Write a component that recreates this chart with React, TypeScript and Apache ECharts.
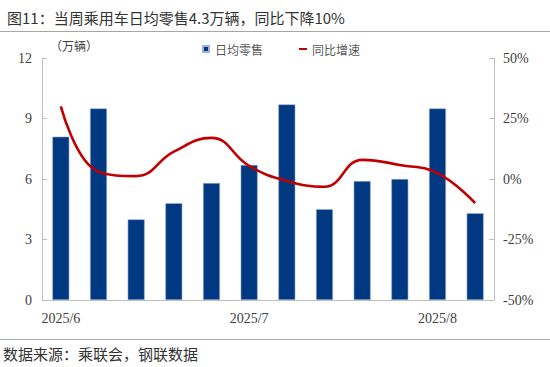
import React, { useEffect, useRef } from "react";
import * as echarts from "echarts";

const weeks = ["W1", "W2", "W3", "W4", "W5", "W6", "W7", "W8", "W9", "W10", "W11", "W12"];
const weekLabels = ["2025/6", "", "", "", "", "2025/7", "", "", "", "", "2025/8", ""];
const dailyRetail = [8.1, 9.5, 4.0, 4.8, 5.8, 6.7, 9.7, 4.5, 5.9, 6.0, 9.5, 4.3];
const yoyGrowth = [30, 3, 1.2, 11.3, 17, 5.4, -0.8, -3.2, 7.9, 5.8, 2.4, -10];

const titleText = "图11：当周乘用车日均零售4.3万辆，同比下降10%";
const sourceText = "数据来源：乘联会，钢联数据";
const unitText = "（万辆）";
const barName = "日均零售";
const lineName = "同比增速";

const CJK = '"Noto Sans CJK SC", "Noto Sans", sans-serif';
const SERIF = '"Liberation Serif", "Times New Roman", serif';

export default function App() {
  const ref = useRef<HTMLDivElement>(null);
  useEffect(() => {
    if (!ref.current) return;
    const chart = echarts.init(ref.current, null, { renderer: "svg" });
    chart.setOption({
      animation: false,
      backgroundColor: "#ffffff",
      title: {
        text: titleText,
        left: 2,
        top: 5,
        textStyle: { fontFamily: CJK, fontSize: 15, fontWeight: "normal", color: "#333333" },
      },
      legend: {
        left: 197,
        top: 38,
        itemGap: 36,
        itemWidth: 8,
        itemHeight: 6,
        textStyle: { fontFamily: CJK, fontSize: 12, color: "#595959" },
        data: [
          { name: barName, icon: "path://M0,0H6V6H0Z" },
          { name: lineName, icon: "path://M0,0H8V2H0Z" },
        ],
      },
      grid: { left: 42, right: 56, top: 58, bottom: 67, containLabel: false },
      xAxis: {
        type: "category",
        data: weeks,
        axisLine: { show: true, lineStyle: { color: "#BFBFBF", width: 1 } },
        axisTick: { show: false },
        axisLabel: {
          interval: 0,
          formatter: (_v: string, i: number) => weekLabels[i],
          fontFamily: SERIF,
          fontSize: 14,
          color: "#404040",
          margin: 11,
        },
      },
      yAxis: [
        {
          type: "value",
          min: 0,
          max: 12,
          interval: 3,
          position: "left",
          axisLine: { show: true, lineStyle: { color: "#BFBFBF" } },
          axisTick: { show: true, inside: true, length: 5, lineStyle: { color: "#BFBFBF" } },
          splitLine: { show: false },
          axisLabel: { fontFamily: SERIF, fontSize: 14, color: "#404040", margin: 10 },
        },
        {
          type: "value",
          min: -50,
          max: 50,
          interval: 25,
          position: "right",
          axisLine: { show: true, lineStyle: { color: "#BFBFBF" } },
          axisTick: { show: true, inside: true, length: 5, lineStyle: { color: "#BFBFBF" } },
          splitLine: { show: false },
          axisLabel: { fontFamily: SERIF, fontSize: 14, color: "#404040", margin: 9, formatter: "{value}%" },
        },
      ],
      series: [
        {
          name: barName,
          type: "bar",
          data: dailyRetail,
          yAxisIndex: 0,
          barWidth: 17,
          itemStyle: { color: "#003882", borderColor: "#9FB3D6", borderWidth: 0.6 },
        },
        {
          name: lineName,
          type: "line",
          data: yoyGrowth,
          yAxisIndex: 1,
          smooth: 0.45,
          showSymbol: false,
          symbol: "none",
          lineStyle: { color: "#C00000", width: 2.6 },
          itemStyle: { color: "#C00000" },
        },
      ],
      graphic: [
        { type: "line", shape: { x1: 0, y1: 31.5, x2: 550, y2: 31.5 }, style: { stroke: "#A6A6A6", lineWidth: 1 } },
        { type: "line", shape: { x1: 0, y1: 339.5, x2: 550, y2: 339.5 }, style: { stroke: "#A6A6A6", lineWidth: 1 } },
        {
          type: "text",
          x: 50,
          y: 45,
          style: { text: unitText, font: `12px ${CJK}`, fill: "#404040", textVerticalAlign: "middle" },
        },
        {
          type: "text",
          x: 3,
          y: 353,
          style: { text: sourceText, font: `15px ${CJK}`, fill: "#333333", textVerticalAlign: "middle" },
        },
      ],
    });
    return () => chart.dispose();
  }, []);
  return <div ref={ref} style={{ width: 550, height: 367, position: "absolute", left: 0, top: 0 }} />;
}
